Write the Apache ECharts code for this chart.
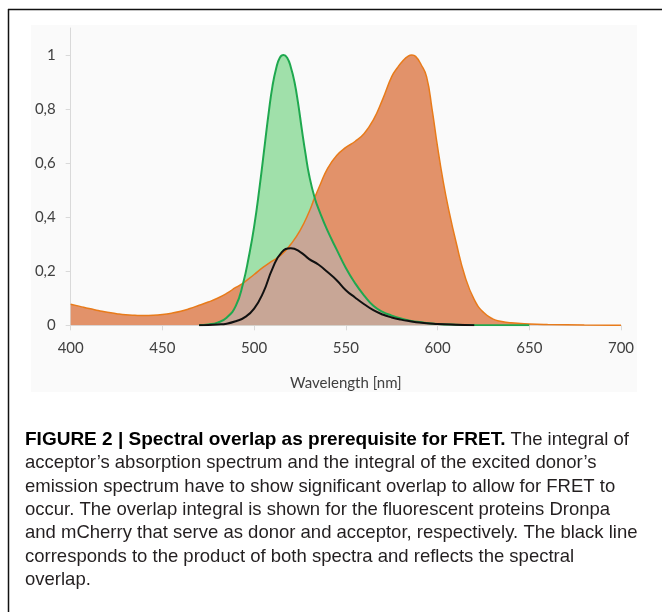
<!DOCTYPE html>
<html>
<head>
<meta charset="utf-8">
<script src="https://cdn.jsdelivr.net/npm/echarts@6/dist/echarts.min.js"></script>
<style>
html,body{margin:0;padding:0;background:#fff;}
#chart{width:662px;height:612px;}
</style>
</head>
<body>
<div id="chart"></div>
<script>
// mCherry absorption (orange)
const absNm  = [400,405,410,415,420,425,430,435,440,445,450,455,460,465,470,475,480,485,490,494,500,505,510,515,520,525,530,533,536,540,545,550,555,560,565,570,575,578,581,584,586,588,591,594,597,600,603,606,610,615,620,625,630,635,640,650,660,680,700];
const absVal = [0.078,0.070,0.062,0.055,0.048,0.043,0.039,0.037,0.036,0.037,0.040,0.045,0.052,0.062,0.074,0.086,0.100,0.118,0.140,0.156,0.188,0.215,0.238,0.262,0.300,0.350,0.420,0.472,0.520,0.580,0.628,0.658,0.680,0.710,0.760,0.835,0.920,0.952,0.978,0.996,1.000,0.995,0.965,0.920,0.800,0.660,0.535,0.430,0.310,0.180,0.095,0.048,0.024,0.014,0.009,0.005,0.003,0.001,0.000];
// Dronpa emission (green)
const emNm   = [470,475,480,485,490,494,497,500,503,506,508,510,512,514,516,518,520,522,524,526,528,530,533,536,540,545,550,555,560,565,570,575,580,585,590,600,610,620,650];
const emVal  = [0,0.003,0.010,0.028,0.072,0.156,0.250,0.365,0.513,0.680,0.790,0.885,0.950,0.990,1.000,0.990,0.955,0.900,0.820,0.725,0.635,0.555,0.472,0.415,0.350,0.280,0.212,0.156,0.110,0.072,0.050,0.036,0.025,0.017,0.012,0.005,0.002,0.001,0];
// overlap region (area under both spectra, brown)
const ovNm   = [470,475,480,485,490,494,500,505,510,515,520,525,530,533,536,540,545,550,555,560,565,570,575,580,585,590,600,610,620,650];
const ovVal  = [0,0.003,0.010,0.028,0.072,0.156,0.188,0.215,0.238,0.262,0.300,0.350,0.420,0.472,0.415,0.350,0.280,0.212,0.156,0.110,0.072,0.050,0.036,0.025,0.017,0.012,0.005,0.002,0.001,0];
// product of both spectra (black)
const prodNm  = [470,475,480,485,490,495,500,505,510,515,520,525,530,535,540,545,550,555,560,565,570,575,580,585,590,600,610,620];
const prodVal = [0,0.001,0.003,0.006,0.015,0.030,0.062,0.122,0.210,0.270,0.285,0.272,0.245,0.225,0.197,0.167,0.130,0.103,0.078,0.056,0.040,0.029,0.021,0.015,0.010,0.005,0.002,0];

const yTicks = [0,0.2,0.4,0.6,0.8,1];
const xTitle = 'Wavelength [nm]';
const captionLines = [
  '{b|FIGURE 2 | Spectral overlap as prerequisite for FRET.} The integral of',
  'acceptor\u2019s absorption spectrum and the integral of the excited donor\u2019s',
  'emission spectrum have to show significant overlap to allow for FRET to',
  'occur. The overlap integral is shown for the fluorescent proteins Dronpa',
  'and mCherry that serve as donor and acceptor, respectively. The black line',
  'corresponds to the product of both spectra and reflects the spectral',
  'overlap.'
];

const zip = (xs, ys) => xs.map((x, i) => [x, ys[i]]);
const SM = 0.5;
function fill(data, color) {
  return { type: 'line', data, smooth: SM, symbol: 'none', silent: true,
    lineStyle: { width: 0, opacity: 0 }, areaStyle: { color, opacity: 1 } };
}
function stroke(data, color, w) {
  return { type: 'line', data, smooth: SM, symbol: 'none', silent: true,
    lineStyle: { width: w, color } };
}

const capFont = '"Liberation Sans", Arial, sans-serif';
const graphics = [
  { type: 'rect', z: -10, silent: true, shape: { x: 31, y: 25, width: 606, height: 367 }, style: { fill: '#fafafa' } },
  { type: 'line', silent: true, shape: { x1: 8, y1: 9.5, x2: 662, y2: 9.5 }, style: { stroke: '#111', lineWidth: 1.5 } },
  { type: 'line', silent: true, shape: { x1: 8.5, y1: 9, x2: 8.5, y2: 612 }, style: { stroke: '#111', lineWidth: 1.5 } }
];
captionLines.forEach((t, i) => {
  graphics.push({
    type: 'text', silent: true, x: 25, y: 440 + i * 23.3,
    style: {
      text: t, fill: '#231f20', fontSize: 18.5, fontFamily: capFont,
      verticalAlign: 'middle', align: 'left',
      rich: { b: { fontWeight: 'bold', fill: '#000', fontSize: 19, fontFamily: capFont } }
    }
  });
});

const chart = echarts.init(document.getElementById('chart'), null, { renderer: 'canvas' });
chart.setOption({
  animation: false,
  backgroundColor: '#ffffff',
  grid: { left: 70.7, right: 41, top: 28, bottom: 286.7, containLabel: false, outerBoundsMode: 'none' },
  xAxis: {
    type: 'value', min: 400, max: 700, interval: 50,
    name: xTitle, nameLocation: 'middle', nameGap: 50,
    nameTextStyle: { color: '#404040', fontSize: 15, fontFamily: 'Lato' },
    axisLine: { lineStyle: { color: '#d9d9d9', width: 1 } },
    axisTick: { show: true, length: 5, lineStyle: { color: '#d9d9d9' } },
    axisLabel: { color: '#404040', fontSize: 15, fontFamily: 'Lato', margin: 15 },
    splitLine: { show: false }
  },
  yAxis: {
    type: 'value', min: 0, max: 1.1,
    axisLine: { show: true, lineStyle: { color: '#d9d9d9', width: 1 } },
    axisTick: { show: true, length: 5, lineStyle: { color: '#d9d9d9' }, customValues: yTicks },
    axisLabel: { color: '#404040', fontSize: 15, fontFamily: 'Lato', margin: 15, customValues: yTicks,
      formatter: v => String(Math.round(v * 10) / 10).replace('.', ',') },
    splitLine: { show: false }
  },
  series: [
    fill(zip(absNm, absVal), '#e2926a'),
    fill(zip(emNm, emVal), '#a0e0aa'),
    fill(zip(ovNm, ovVal), '#c8a696'),
    stroke(zip(absNm, absVal), '#e87b1a', 1.5),
    stroke(zip(emNm, emVal), '#1fa84f', 2),
    stroke(zip(prodNm, prodVal), '#111111', 2)
  ],
  graphic: graphics
});
</script>
</body>
</html>
